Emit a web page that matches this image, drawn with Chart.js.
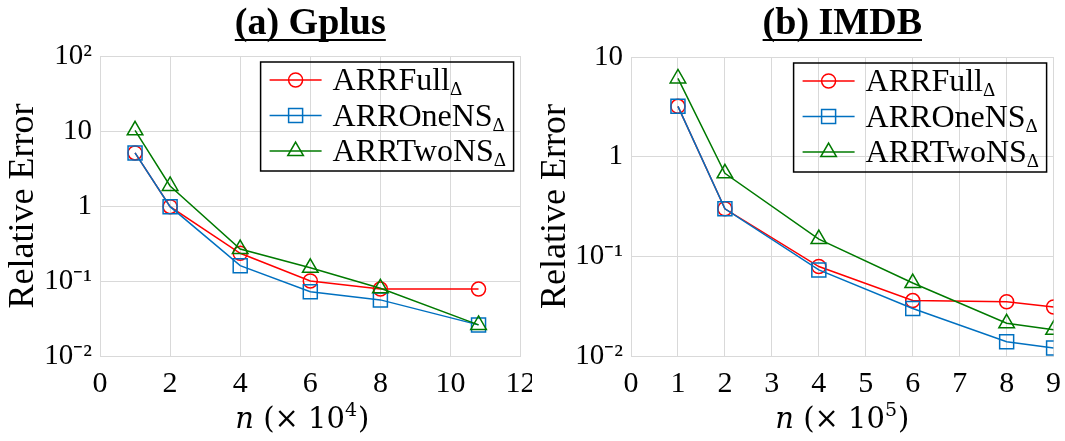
<!DOCTYPE html>
<html lang="en">
<head>
<meta charset="UTF-8">
<title>Relative Error - Gplus / IMDB</title>
<script src="https://cdn.jsdelivr.net/npm/chart.js"></script>
<style>
    body { margin: 0; background: #fff; }
    #wrap { position: relative; width: 1065px; height: 441px; }
    canvas { position: absolute; top: 0; }
    #gplus { left: 0; }
    #imdb { left: 532px; }
</style>
</head>
<body>
<div id="wrap">
    <canvas id="gplus" width="532" height="441"></canvas>
    <canvas id="imdb" width="533" height="441"></canvas>
</div>

<script>
// series names (legend), each gets a subscript delta
const seriesNames = ['ARRFull', 'ARROneNS', 'ARRTwoNS'];

// (a) Gplus, n in units of 10^4
const gplusX = [1, 2, 4, 6, 8, 10.8];
const gplusFull = [5.1, 0.98, 0.234, 0.1, 0.078, 0.078];
const gplusOne = [5.1, 0.98, 0.16, 0.072, 0.056, 0.026];
const gplusTwo = [10.2, 1.85, 0.267, 0.15, 0.08, 0.026];
const gplusYTicks = [0.01, 0.1, 1, 10, 100];
const gplusYLabels = ['10⁻²', '10⁻¹', '1', '10', '10²'];

// (b) IMDB, n in units of 10^5
const imdbX = [1, 2, 4, 6, 8, 9];
const imdbFull = [3.2, 0.3, 0.079, 0.036, 0.035, 0.031];
const imdbOne = [3.2, 0.3, 0.073, 0.030, 0.0139, 0.012];
const imdbTwo = [6.1, 0.68, 0.149, 0.054, 0.0213, 0.0183];
const imdbYTicks = [0.01, 0.1, 1, 10];
const imdbYLabels = ['10⁻²', '10⁻¹', '1', '10'];

const lineColors = ['#ff0000', '#0070c0', '#007a00'];
const markerStyles = ['circle', 'rect', 'triangle'];
const markerSizes = [7, 9.9, 9];
const gridColor = '#d9d9d9';
const serif = '"Liberation Serif", "Times New Roman", serif';

function makeDatasets(xs, seriesList) {
    return seriesList.map((ys, i) => ({
        label: seriesNames[i],
        data: xs.map((x, j) => ({ x: x, y: ys[j] })),
        borderColor: lineColors[i],
        borderWidth: 1.5,
        pointStyle: markerStyles[i],
        pointRadius: markerSizes[i],
        pointBorderColor: lineColors[i],
        pointBorderWidth: 1.5,
        pointBackgroundColor: 'rgba(0,0,0,0)',
        order: 3 - i,
        tension: 0
    }));
}

// heading (underlined), x title with italic n and exponent, framed legend
const decorPlugin = {
    id: 'decor',
    afterDraw(chart, args, opts) {
        const ctx = chart.ctx;
        const a = chart.chartArea;
        const cx = (a.left + a.right) / 2;
        ctx.save();
        ctx.fillStyle = '#000';

        // heading
        ctx.font = 'bold 38px ' + serif;
        ctx.textAlign = 'center';
        ctx.textBaseline = 'alphabetic';
        ctx.fillText(opts.heading, cx, 34);
        const hw = ctx.measureText(opts.heading).width;
        ctx.fillRect(cx - hw / 2, 39, hw, 2);

        // x axis title:  n (× 10^k)
        const mainFont = '29px "DejaVu Serif", serif';
        const italFont = 'italic 29px "DejaVu Serif", serif';
        const supFont = '19px "DejaVu Serif", serif';
        ctx.textAlign = 'left';
        ctx.font = italFont;
        const wN = ctx.measureText('n').width;
        ctx.font = mainFont;
        const wMid = ctx.measureText(' (× 10').width;
        const wEnd = ctx.measureText(')').width;
        ctx.font = supFont;
        const wSup = ctx.measureText(opts.exponent).width;
        let x = cx + (opts.xTitleShift || 0) - (wN + wMid + wSup + 1 + wEnd) / 2;
        const base = 428;
        ctx.font = italFont;
        ctx.fillText('n', x, base);
        x += wN;
        ctx.font = mainFont;
        ctx.fillText(' (× 10', x, base);
        x += wMid;
        ctx.font = supFont;
        ctx.fillText(opts.exponent, x, base - 12);
        x += wSup + 1;
        ctx.font = mainFont;
        ctx.fillText(')', x, base);

        // legend
        const boxW = 253, boxH = 109;
        const bx = a.right - 7 - boxW;
        const by = a.top + 6;
        ctx.lineWidth = 1.5;
        ctx.strokeStyle = '#000';
        ctx.strokeRect(bx, by, boxW, boxH);
        const sets = chart.data.datasets;
        for (let i = 0; i < seriesNames.length; i++) {
            const ds = sets[i];
            const ry = by + 18 + i * 35.5;
            ctx.strokeStyle = ds.borderColor;
            ctx.lineWidth = 1.5;
            ctx.beginPath();
            ctx.moveTo(bx + 9, ry);
            ctx.lineTo(bx + 61, ry);
            ctx.stroke();
            ctx.fillStyle = 'rgba(0,0,0,0)';
            Chart.helpers.drawPoint(ctx, {
                pointStyle: ds.pointStyle,
                radius: ds.pointRadius,
                rotation: 0,
                borderWidth: 1.5
            }, bx + 35, ry);
            ctx.fillStyle = '#000';
            ctx.font = '32px ' + serif;
            ctx.fillText(seriesNames[i], bx + 72, ry + 10);
            const tw = ctx.measureText(seriesNames[i]).width;
            ctx.font = '19px ' + serif;
            ctx.fillText('Δ', bx + 72 + tw, ry + 15);
        }
        ctx.restore();
    }
};

function makeChart(id, xs, series, xMax, xStep, yTicks, yLabels, heading, exponent, pad, yWidth, shift) {
    const ctx = document.getElementById(id).getContext('2d');
    return new Chart(ctx, {
        type: 'line',
        data: { datasets: makeDatasets(xs, series) },
        plugins: [decorPlugin],
        options: {
            responsive: false,
            animation: false,
            devicePixelRatio: 1,
            layout: { padding: pad },
            plugins: {
                legend: { display: false },
                tooltip: { enabled: false },
                decor: { heading: heading, exponent: exponent, xTitleShift: shift }
            },
            scales: {
                x: {
                    type: 'linear',
                    min: 0,
                    max: xMax,
                    afterFit: s => { s.height = 85; s.paddingRight = 0; s.paddingLeft = 0; },
                    ticks: {
                        stepSize: xStep,
                        color: '#000',
                        padding: 10,
                        maxRotation: 0,
                        font: { family: serif, size: 30 }
                    },
                    grid: { color: gridColor, drawTicks: false },
                    border: { color: gridColor }
                },
                y: {
                    type: 'logarithmic',
                    min: yTicks[0],
                    max: yTicks[yTicks.length - 1],
                    afterFit: s => { s.width = yWidth; },
                    afterBuildTicks: s => { s.ticks = yTicks.map(v => ({ value: v, major: true })); },
                    ticks: {
                        color: '#000',
                        padding: 8,
                        font: { family: serif, size: 29 },
                        callback: v => yLabels[yTicks.indexOf(v)]
                    },
                    grid: { color: gridColor, drawTicks: false },
                    border: { color: gridColor },
                    title: {
                        display: true,
                        text: 'Relative Error',
                        color: '#000',
                        font: { family: serif, size: 36 },
                        padding: { top: 2, bottom: 0 }
                    }
                }
            }
        }
    });
}

makeChart('gplus', gplusX, [gplusFull, gplusOne, gplusTwo], 12, 2,
    gplusYTicks, gplusYLabels, '(a) Gplus', '4',
    { top: 56, right: 7, left: 0, bottom: 0 }, 100, -8);
makeChart('imdb', imdbX, [imdbFull, imdbOne, imdbTwo], 9, 1,
    imdbYTicks, imdbYLabels, '(b) IMDB', '5',
    { top: 57, right: 11, left: 0, bottom: 0 }, 99, 0);
</script>
</body>
</html>
